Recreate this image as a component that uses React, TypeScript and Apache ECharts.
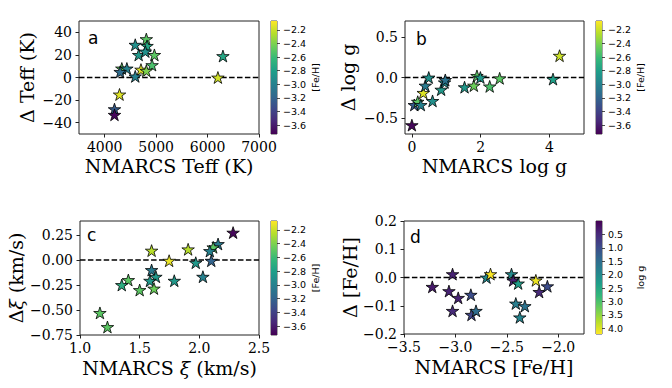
import React, { useEffect, useRef } from 'react';
import * as echarts from 'echarts';

// ---------- data ----------
// panel a: NMARCS Teff vs Delta Teff, coloured by [Fe/H]
const teffX = [4594, 4809, 4823, 4660, 4790, 4966, 4921, 4705, 4809, 4333, 4431, 4300, 4594, 4288, 4190, 4190, 6201, 6299];
const teffY = [29, 34, 28, 20, 23, 20, 11, 7, 6, 8, 8, 5, 1, -15, -28, -33, 0, 19];
const teffFeH = [-2.9, -2.5, -2.75, -2.85, -2.9, -2.5, -2.55, -2.15, -2.4, -2.5, -3.0, -3.15, -3.0, -2.15, -3.25, -3.7, -2.18, -2.75];

// panel b: NMARCS log g vs Delta log g
const loggX = [0.0, 0.07, 0.17, 0.26, 0.33, 0.39, 0.49, 0.6, 0.85, 0.95, 0.97, 1.53, 1.8, 1.89, 1.99, 2.26, 2.55, 4.1, 4.29];
const loggY = [-0.59, -0.34, -0.3, -0.34, -0.19, -0.1, 0.0, -0.29, -0.15, -0.06, -0.03, -0.12, -0.1, 0.02, 0.0, -0.11, -0.01, -0.02, 0.27];
const loggFeH = [-3.7, -3.25, -2.5, -3.0, -2.15, -3.05, -2.9, -2.9, -2.85, -2.95, -3.1, -2.85, -2.45, -2.5, -2.85, -2.55, -2.5, -2.8, -2.2];

// panel c: NMARCS xi vs Delta xi
const xiX = [2.283, 2.157, 2.116, 2.088, 2.1, 1.97, 2.03, 1.906, 1.747, 1.6, 1.6, 1.636, 1.586, 1.62, 1.79, 1.5, 1.405, 1.35, 1.167, 1.23];
const xiY = [0.274, 0.16, 0.127, 0.09, -0.007, -0.027, -0.167, 0.107, -0.007, 0.094, -0.1, -0.167, -0.207, -0.285, -0.207, -0.3, -0.2, -0.25, -0.529, -0.67];
const xiFeH = [-3.7, -3.05, -2.5, -3.0, -3.2, -2.85, -3.0, -2.25, -2.12, -2.25, -3.05, -2.85, -2.85, -2.45, -2.85, -2.5, -2.5, -2.7, -2.5, -2.5];

// panel d: NMARCS [Fe/H] vs Delta [Fe/H], coloured by log g
const fehX = [-3.225, -3.028, -3.063, -2.973, -3.028, -2.85, -2.844, -2.8, -2.698, -2.659, -2.455, -2.439, -2.39, -2.413, -2.325, -2.374, -2.218, -2.186, -2.106];
const fehY = [-0.033, 0.012, -0.048, -0.072, -0.118, -0.061, -0.132, -0.118, 0.0, 0.012, 0.012, -0.01, -0.021, -0.092, -0.101, -0.141, -0.01, -0.051, -0.031];
const fehLogg = [0.3, 0.4, 0.4, 0.4, 0.5, 1.0, 0.9, 1.5, 2.0, 4.2, 2.0, 0.4, 2.3, 1.8, 1.6, 1.9, 4.1, 0.5, 1.0];

// colour scale limits and colorbar ticks
const feRange = [-3.73, -2.07];
const loggRange = [0.0, 4.21];
const feTicks = [-3.6, -3.4, -3.2, -3.0, -2.8, -2.6, -2.4, -2.2];
const loggTicks = [0.5, 1.0, 1.5, 2.0, 2.5, 3.0, 3.5, 4.0];

// axis limits and ticks
const aXLim = [3500, 7000];
const aXTicks = [4000, 5000, 6000, 7000];
const aYLim = [-50, 50];
const aYTicks = [-40, -20, 0, 20, 40];
const bXLim = [-0.2, 5.0];
const bXTicks = [0, 2, 4];
const bYLim = [-0.7, 0.7];
const bYTicks = [-0.5, 0.0, 0.5];
const cXLim = [1.0, 2.5];
const cXTicks = [1.0, 1.5, 2.0, 2.5];
const cYLim = [-0.75, 0.39];
const cYTicks = [-0.75, -0.5, -0.25, 0.0, 0.25];
const dXLim = [-3.5, -1.75];
const dXTicks = [-3.5, -3.0, -2.5, -2.0];
const dYLim = [-0.2, 0.2];
const dYTicks = [-0.2, -0.1, 0.0, 0.1, 0.2];

const VIRIDIS = ['#440154', '#482878', '#3e4989', '#31688e', '#26828e', '#1f9e89', '#35b779', '#6ece58', '#b5de2b', '#fde725'];
const SERIF = 'DejaVu Serif';
const SANS = 'DejaVu Sans';
const STAR = 'path://M0,-1L0.2245,-0.309L0.951,-0.309L0.363,0.118L0.588,0.809L0,0.382L-0.588,0.809L-0.363,0.118L-0.951,-0.309L-0.2245,-0.309Z';

const fmt = (dec: number) => (v: any) => Number(v).toFixed(dec).replace('-', '\u2212');

function mainAxis(dim: 'x' | 'y', gridIndex: number, lim: number[], ticks: number[], dec: number, name: string, nameGap: number) {
  return {
    type: 'value',
    gridIndex,
    min: lim[0],
    max: lim[1],
    name,
    nameLocation: 'middle',
    nameGap,
    nameTextStyle: {
      fontFamily: SERIF,
      fontSize: 19,
      color: '#000',
      rich: { i: { fontFamily: SERIF, fontStyle: 'italic', fontSize: 19, color: '#000' } },
    },
    axisLine: { show: false, onZero: false },
    splitLine: { show: false },
    axisTick: { show: true, length: 3.5, lineStyle: { color: '#222', width: 1 }, customValues: ticks },
    axisLabel: {
      fontFamily: SERIF,
      fontSize: 14,
      color: '#000',
      margin: dim === 'x' ? 6 : 7,
      customValues: ticks,
      formatter: fmt(dec),
    },
  };
}

function cbarYAxis(gridIndex: number, range: number[], ticks: number[], name: string, inverse: boolean) {
  return {
    type: 'value',
    gridIndex,
    min: range[0],
    max: range[1],
    inverse,
    position: 'right',
    name,
    nameLocation: 'middle',
    nameGap: 33,
    nameTextStyle: { fontFamily: SANS, fontSize: 9.5, color: '#000' },
    axisLine: { show: false, onZero: false },
    splitLine: { show: false },
    axisTick: { show: true, length: 3, lineStyle: { color: '#222', width: 0.8 }, customValues: ticks },
    axisLabel: { fontFamily: SANS, fontSize: 9.5, color: '#000', margin: 6, customValues: ticks, formatter: fmt(1) },
  };
}

const zip3 = (a: number[], b: number[], c: number[]) => a.map((v, i) => [v, b[i], c[i]]);

function scatter(idx: number, data: number[][]) {
  return {
    type: 'scatter',
    xAxisIndex: idx,
    yAxisIndex: idx,
    data,
    symbol: STAR,
    symbolKeepAspect: true,
    symbolSize: 12.5,
    itemStyle: { borderColor: '#000', borderWidth: 0.8, opacity: 1 },
    z: 3,
  };
}

function zeroLine(idx: number, xlim: number[]) {
  return {
    type: 'line',
    xAxisIndex: idx,
    yAxisIndex: idx,
    data: [[xlim[0], 0], [xlim[1], 0]],
    symbol: 'none',
    silent: true,
    lineStyle: { color: '#000', width: 1.5, type: [5.5, 2.4] },
    z: 2,
  };
}

function colorbar(idx: number, range: number[]) {
  const stops = VIRIDIS.map((c, i) => ({ offset: i / (VIRIDIS.length - 1), color: c }));
  return {
    type: 'custom',
    xAxisIndex: idx,
    yAxisIndex: idx,
    silent: true,
    data: [[0, range[0], 1, range[1]]],
    encode: { x: [0, 2], y: [1, 3] },
    renderItem: (_p: any, api: any) => {
      const a = api.coord([api.value(0), api.value(1)]);
      const b = api.coord([api.value(2), api.value(3)]);
      const x = Math.min(a[0], b[0]);
      const y = Math.min(a[1], b[1]);
      const w = Math.abs(a[0] - b[0]);
      const h = Math.abs(a[1] - b[1]);
      const loBottom = a[1] > b[1];
      return {
        type: 'rect',
        shape: { x, y, width: w, height: h },
        style: { fill: new echarts.graphic.LinearGradient(0, loBottom ? 1 : 0, 0, loBottom ? 0 : 1, stops) },
      };
    },
    z: 1,
  };
}

function buildOption() {
  const border = { show: true, borderColor: '#222', borderWidth: 1, backgroundColor: 'transparent' };
  const grids = [
    { left: 79, top: 21, width: 180, height: 113, ...border },
    { left: 405, top: 21, width: 179, height: 113, ...border },
    { left: 80, top: 221, width: 179, height: 114, ...border },
    { left: 404, top: 221, width: 180, height: 113, ...border },
    { left: 271, top: 21, width: 6, height: 113, ...border, borderWidth: 0.8 },
    { left: 596, top: 21, width: 6, height: 113, ...border, borderWidth: 0.8 },
    { left: 271, top: 221, width: 6, height: 114, ...border, borderWidth: 0.8 },
    { left: 596, top: 221, width: 6, height: 113, ...border, borderWidth: 0.8 },
  ];
  const hiddenX = (g: number) => ({ type: 'value', gridIndex: g, min: 0, max: 1, show: false });
  const letter = (t: string, x: number, y: number) => ({
    type: 'text',
    x,
    y,
    style: { text: t, fontFamily: SANS, fontSize: 17, fill: '#000', verticalAlign: 'middle', align: 'left' },
  });
  return {
    animation: false,
    backgroundColor: '#fff',
    grid: grids,
    xAxis: [
      mainAxis('x', 0, aXLim, aXTicks, 0, 'NMARCS Teff (K)', 22),
      mainAxis('x', 1, bXLim, bXTicks, 0, 'NMARCS log g', 22),
      mainAxis('x', 2, cXLim, cXTicks, 1, 'NMARCS {i|ξ} (km/s)', 23),
      mainAxis('x', 3, dXLim, dXTicks, 1, 'NMARCS [Fe/H]', 23),
      hiddenX(4), hiddenX(5), hiddenX(6), hiddenX(7),
    ],
    yAxis: [
      mainAxis('y', 0, aYLim, aYTicks, 0, 'Δ Teff (K)', 43),
      mainAxis('y', 1, bYLim, bYTicks, 1, 'Δ log g', 48),
      mainAxis('y', 2, cYLim, cYTicks, 2, 'Δ{i|ξ} (km/s)', 55),
      mainAxis('y', 3, dYLim, dYTicks, 1, 'Δ [Fe/H]', 45),
      cbarYAxis(4, feRange, feTicks, '[Fe/H]', false),
      cbarYAxis(5, feRange, feTicks, '[Fe/H]', false),
      cbarYAxis(6, feRange, feTicks, '[Fe/H]', false),
      cbarYAxis(7, loggRange, loggTicks, 'log g', true),
    ],
    visualMap: [
      { type: 'continuous', show: false, seriesIndex: [0, 1, 2], dimension: 2, min: feRange[0], max: feRange[1], inRange: { color: VIRIDIS } },
      { type: 'continuous', show: false, seriesIndex: [3], dimension: 2, min: loggRange[0], max: loggRange[1], inRange: { color: VIRIDIS } },
    ],
    series: [
      scatter(0, zip3(teffX, teffY, teffFeH)),
      scatter(1, zip3(loggX, loggY, loggFeH)),
      scatter(2, zip3(xiX, xiY, xiFeH)),
      scatter(3, zip3(fehX, fehY, fehLogg)),
      zeroLine(0, aXLim),
      zeroLine(1, bXLim),
      zeroLine(2, cXLim),
      zeroLine(3, dXLim),
      colorbar(4, feRange),
      colorbar(5, feRange),
      colorbar(6, feRange),
      colorbar(7, loggRange),
    ],
    graphic: [
      letter('a', 88, 37.6),
      letter('b', 416, 38.6),
      letter('c', 87, 235),
      letter('d', 410, 236.6),
    ],
  };
}

export default function App() {
  const ref = useRef<HTMLDivElement>(null);
  useEffect(() => {
    document.body.style.margin = '0';
    const chart = echarts.init(ref.current as HTMLDivElement, null, { renderer: 'svg' });
    chart.setOption(buildOption() as any);
    return () => chart.dispose();
  }, []);
  return <div ref={ref} style={{ width: 672, height: 388, background: '#fff' }} />;
}
